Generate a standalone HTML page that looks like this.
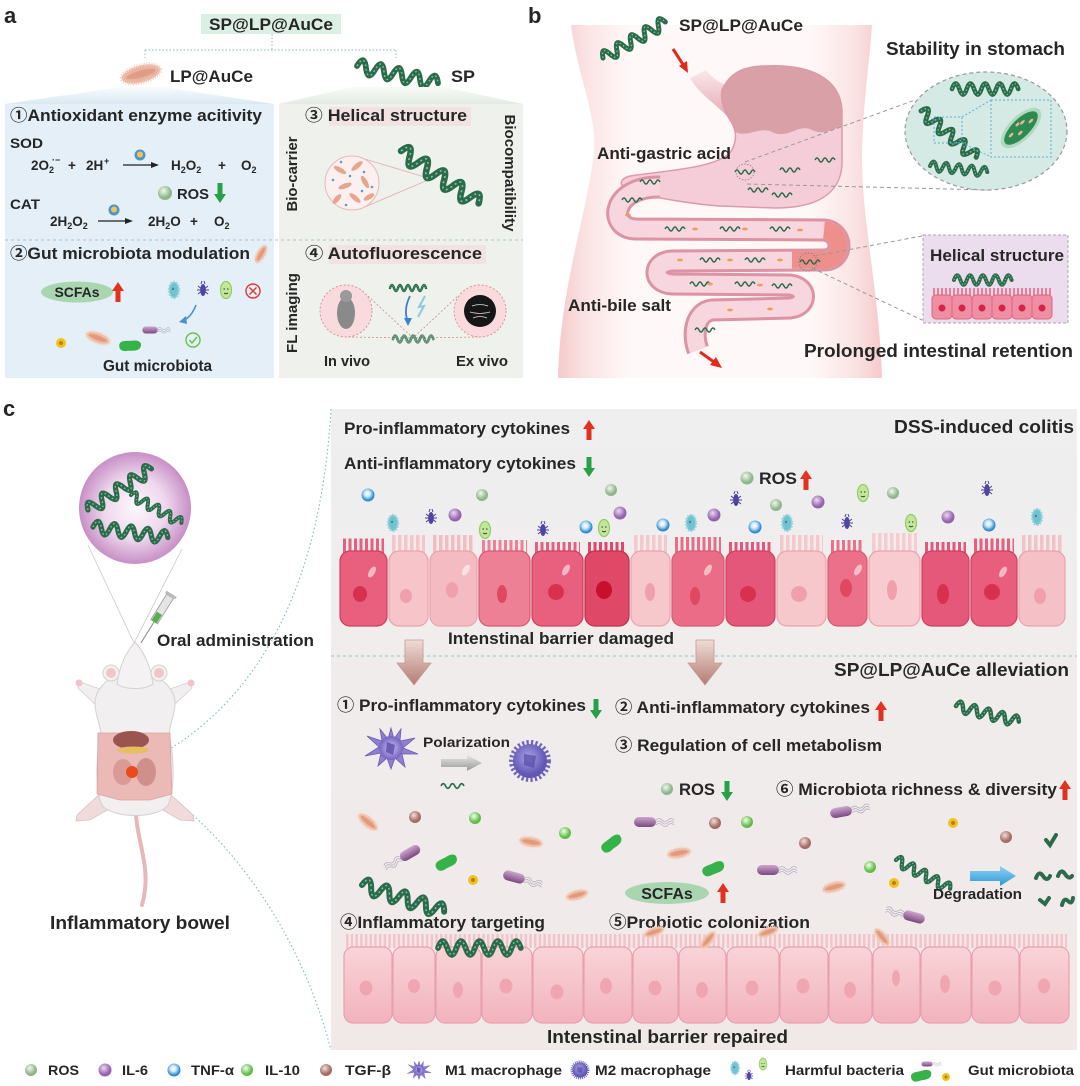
<!DOCTYPE html>
<html><head><meta charset="utf-8"><style>
html,body{margin:0;padding:0;background:#fff;}
svg{display:block;}
text{font-family:"Liberation Sans","Noto Sans CJK SC",sans-serif;font-weight:bold;fill:#262626;}
</style></head><body>
<svg xmlns="http://www.w3.org/2000/svg" width="1080" height="1086" viewBox="0 0 1080 1086">
<defs>
 <radialGradient id="gROS" cx="40%" cy="35%"><stop offset="0" stop-color="#f2f8ee"/><stop offset="1" stop-color="#8fb58c"/></radialGradient>
 <radialGradient id="gIL6" cx="40%" cy="35%"><stop offset="0" stop-color="#ead8f0"/><stop offset="1" stop-color="#9563ad"/></radialGradient>
 <radialGradient id="gTNF" cx="45%" cy="40%"><stop offset="0" stop-color="#ffffff"/><stop offset="0.45" stop-color="#cfe8f8"/><stop offset="1" stop-color="#2d8cd0"/></radialGradient>
 <radialGradient id="gIL10" cx="40%" cy="35%"><stop offset="0" stop-color="#f4fff0"/><stop offset="1" stop-color="#62bd48"/></radialGradient>
 <radialGradient id="gTGF" cx="40%" cy="35%"><stop offset="0" stop-color="#f2dedb"/><stop offset="1" stop-color="#a46c64"/></radialGradient>
 <radialGradient id="gCircle" cx="50%" cy="50%"><stop offset="0" stop-color="#fdf7fc"/><stop offset="0.55" stop-color="#efd8ee"/><stop offset="1" stop-color="#c78fc6"/></radialGradient>
 <radialGradient id="gM1" cx="50%" cy="50%"><stop offset="0" stop-color="#c8bcf0"/><stop offset="1" stop-color="#7564c0"/></radialGradient>
 <radialGradient id="gM2" cx="45%" cy="40%"><stop offset="0" stop-color="#a9a2e6"/><stop offset="1" stop-color="#6258b4"/></radialGradient>
 <linearGradient id="gCap" x1="0" y1="0" x2="0" y2="1"><stop offset="0" stop-color="#cda6cf"/><stop offset="1" stop-color="#7a4a7e"/></linearGradient>
 <linearGradient id="gBody" x1="0" y1="0" x2="1" y2="0"><stop offset="0" stop-color="#f5cacb"/><stop offset="0.09" stop-color="#fbe4e4"/><stop offset="0.22" stop-color="#fff8f8"/><stop offset="0.78" stop-color="#fff8f8"/><stop offset="0.91" stop-color="#fbe4e4"/><stop offset="1" stop-color="#f5cacb"/></linearGradient>
 <linearGradient id="gEso" x1="0" y1="0" x2="0" y2="1"><stop offset="0" stop-color="#fbe8ea"/><stop offset="1" stop-color="#e2a4ac"/></linearGradient>
 <linearGradient id="gBox" x1="0" y1="0" x2="0" y2="1"><stop offset="0" stop-color="#efefef"/><stop offset="1" stop-color="#f1e9e8"/></linearGradient>
 <linearGradient id="gFanL" x1="0" y1="0" x2="0" y2="1"><stop offset="0" stop-color="#f8fbfd"/><stop offset="1" stop-color="#d9e8f2"/></linearGradient>
 <linearGradient id="gFanR" x1="0" y1="0" x2="0" y2="1"><stop offset="0" stop-color="#f8faf7"/><stop offset="1" stop-color="#e3ebe3"/></linearGradient>
 <linearGradient id="gCellR" x1="0" y1="0" x2="0" y2="1"><stop offset="0" stop-color="#f9d4d8"/><stop offset="1" stop-color="#f2b3bd"/></linearGradient>
 <linearGradient id="gBigArrow" x1="0" y1="0" x2="0" y2="1"><stop offset="0" stop-color="#f0dcd6"/><stop offset="1" stop-color="#b37c74"/></linearGradient>
 <linearGradient id="gGrayArrow" x1="0" y1="0" x2="0" y2="1"><stop offset="0" stop-color="#e6e6e6"/><stop offset="1" stop-color="#9a9a9a"/></linearGradient>
 <linearGradient id="gBlueArrow" x1="0" y1="0" x2="0" y2="1"><stop offset="0" stop-color="#8fd4f4"/><stop offset="1" stop-color="#2f96d6"/></linearGradient>

 <g id="helix">
  <path d="M0 0q4 -12 8 0t8 0t8 0t8 0t8 0t8 0t8 0t8 0t8 0" fill="none" stroke="#2b6b4b" stroke-width="5" stroke-linecap="round"/>
  <path d="M0 0q4 -12 8 0t8 0t8 0t8 0t8 0t8 0t8 0t8 0t8 0" fill="none" stroke="#7cc49c" stroke-width="1.3" stroke-dasharray="1.5 2.5"/>
 </g>
 <path id="helixS" d="M0 0q2 -4 4 0t4 0t4 0t4 0t4 0" fill="none" stroke="#2b6b4b" stroke-width="1.4"/>
 <circle id="ros" r="6" fill="url(#gROS)"/>
 <circle id="il6" r="6.5" fill="url(#gIL6)"/>
 <circle id="tnf" r="6.5" fill="url(#gTNF)"/>
 <circle id="il10" r="6" fill="url(#gIL10)"/>
 <circle id="tgf" r="6" fill="url(#gTGF)"/>
 <polygon id="upR" points="-2.5,10 2.5,10 2.5,-1 6,-1 0,-10 -6,-1 -2.5,-1" fill="#e2321f"/>
 <polygon id="downG" points="-2.5,-10 2.5,-10 2.5,1 6,1 0,10 -6,1 -2.5,1" fill="#27a04a"/>
 <g id="teal"><ellipse rx="5" ry="8" fill="#72c2cf" stroke="#9ad6de" stroke-width="2.5" stroke-dasharray="1.5 1.5"/><circle cx="-1" cy="-1" r="1.2" fill="#3a8a9a"/></g>
 <g id="bug"><path d="M-5 -4 L5 4 M5 -4 L-5 4 M-6 0 L6 0 M-1 -9 L-2 -6 M1 -9 L2 -6" stroke="#4a3f9a" stroke-width="1"/><ellipse rx="2.8" ry="6" fill="#4f45a5"/></g>
 <g id="gbact"><ellipse rx="5.5" ry="8.5" fill="#c3e79a" stroke="#93cc66" stroke-width="1.2"/><path d="M-2.5 -1 h1.5 M1 -1 h1.5 M-2 3 q2 1.5 4 0" stroke="#333" stroke-width="0.9" fill="none"/></g>
 <g id="ob"><ellipse rx="13" ry="5.5" fill="#edbba2" stroke="#f4d3c2" stroke-width="3" stroke-dasharray="1 1.5"/><ellipse rx="10" ry="2.5" fill="#e19a80"/></g>
 <path id="bean" d="M-11 3 C-12 -4 -4 -3 2 -5 C8 -7 13 -5 11 1 C9 6 2 5 -3 7 C-7 8 -10 7 -11 3Z" fill="#37b24a"/>
 <g id="cap"><path d="M11 -2 q3 -3 6 0 t6 0 t6 0 M11 0.5 q3 -3 6 0 t6 0 t6 0 M11 3 q3 -3 6 0 t6 0 t6 0" stroke="#b6aec0" stroke-width="0.8" fill="none"/><rect x="-11" y="-5" width="22" height="10" rx="5" fill="url(#gCap)"/></g>
 <g id="yb"><circle r="5" fill="#f2c21c"/><circle r="2" fill="#b88410"/></g>
 <g id="m1"><path d="M0,-20 L3,-9 L10,-19 L9,-7 L24,-10 L12,0 L27,6 L11,6 L14,19 L4,10 L0,21 L-4,10 L-13,18 L-10,5 L-26,8 L-12,-1 L-24,-12 L-9,-7 L-11,-19 L-3,-9 Z" fill="#8e7fd2" stroke="#6a5ab4" stroke-width="0.8"/><circle r="12" fill="url(#gM1)"/><path d="M-4 -6 L4 -3 L2 7 L-5 4 Z" fill="#6b5bb5"/></g>
 <g id="m2"><circle r="18.5" fill="none" stroke="#6f66be" stroke-width="5" stroke-dasharray="2.2 2.2"/><circle r="17" fill="url(#gM2)"/><path d="M-6 -7 L6 -5 L4 7 L-6 4 Z" fill="#554aa6" opacity="0.7"/></g>
 <g id="cat"><circle r="5.5" fill="#4f94cc"/><circle cy="-0.5" r="3" fill="#f3c54a"/></g>
</defs>

<rect width="1080" height="1086" fill="#fff"/>

<!-- ================= PANEL A ================= -->
<text x="4" y="23" font-size="22">a</text>
<rect x="201" y="14" width="140" height="20" fill="#dcefe4"/>
<text x="209" y="30" font-size="17" textLength="124" lengthAdjust="spacingAndGlyphs">SP@LP@AuCe</text>
<g stroke="#86bcbc" stroke-width="1" stroke-dasharray="1.5 2" fill="none">
 <path d="M272 34 V50 M145 50 H396 M145 50 V58 M396 50 V58"/>
</g>
<g transform="translate(141,74) rotate(-15)"><ellipse rx="20" ry="8.5" fill="#eab5a0" stroke="#f5d3c4" stroke-width="4" stroke-dasharray="1 1.5"/><ellipse rx="15" ry="3.5" fill="#df9c86"/></g>
<text x="170" y="82" font-size="17" textLength="83" lengthAdjust="spacingAndGlyphs">LP@AuCe</text>
<use href="#helix" transform="translate(357,66) rotate(12) scale(1.15)"/>
<text x="451" y="82" font-size="17" textLength="24" lengthAdjust="spacingAndGlyphs">SP</text>
<polygon points="121,87 162,87 274,104 5,104" fill="url(#gFanL)"/>
<polygon points="352,87 445,87 523,104 279,104" fill="url(#gFanR)"/>
<rect x="5" y="104" width="269" height="274" fill="#e4eff7"/>
<rect x="279" y="104" width="244" height="274" fill="#eef1ec"/>
<line x1="5" y1="240" x2="523" y2="240" stroke="#a9c6c6" stroke-width="1" stroke-dasharray="3 3"/>

<text x="10" y="121" font-size="16.5" textLength="252" lengthAdjust="spacingAndGlyphs">①Antioxidant enzyme acitivity</text>
<text x="10" y="148" font-size="14" textLength="33" lengthAdjust="spacingAndGlyphs">SOD</text>
<g>
 <text x="31" y="170" font-size="13.5">2O</text><text x="49" y="173" font-size="9">2</text><text x="52" y="163" font-size="9">·−</text>
 <text x="68" y="170" font-size="13.5">+</text>
 <text x="86" y="170" font-size="13.5">2H</text><text x="104" y="164" font-size="9">+</text>
 <text x="171" y="170" font-size="13.5">H<tspan font-size="9" dy="3">2</tspan><tspan dy="-3">O</tspan><tspan font-size="9" dy="3">2</tspan></text>
 <text x="218" y="170" font-size="13.5">+</text>
 <text x="241" y="170" font-size="13.5">O<tspan font-size="9" dy="3">2</tspan></text>
 <text x="50" y="226" font-size="13.5">2H<tspan font-size="9" dy="3">2</tspan><tspan dy="-3">O</tspan><tspan font-size="9" dy="3">2</tspan></text>
 <text x="148" y="226" font-size="13.5">2H<tspan font-size="9" dy="3">2</tspan><tspan dy="-3">O</tspan></text>
 <text x="190" y="226" font-size="13.5">+</text>
 <text x="214" y="226" font-size="13.5">O<tspan font-size="9" dy="3">2</tspan></text>
</g>
<line x1="123" y1="165" x2="153" y2="165" stroke="#222" stroke-width="1.3"/><polygon points="159,165 151,162 151,168" fill="#222"/>
<use href="#cat" x="140" y="155"/>
<line x1="98" y1="221" x2="127" y2="221" stroke="#222" stroke-width="1.3"/><polygon points="133,221 125,218 125,224" fill="#222"/>
<use href="#cat" x="114" y="210"/>
<circle cx="165" cy="193" r="7" fill="url(#gROS)"/>
<text x="177" y="199" font-size="15" textLength="32" lengthAdjust="spacingAndGlyphs">ROS</text>
<use href="#downG" x="220" y="193"/>
<text x="10" y="209" font-size="14" textLength="30" lengthAdjust="spacingAndGlyphs">CAT</text>

<text x="10" y="259" font-size="16.5" textLength="240" lengthAdjust="spacingAndGlyphs">②Gut microbiota modulation</text>
<g transform="translate(261,254) rotate(-60) scale(0.75)"><use href="#ob"/></g>
<ellipse cx="77" cy="292" rx="36" ry="10.5" fill="#a9d6b1"/>
<text x="77" y="297" font-size="14" text-anchor="middle">SCFAs</text>
<use href="#upR" x="118" y="292"/>
<use href="#teal" x="174" y="290"/>
<use href="#bug" x="203" y="290"/>
<use href="#gbact" x="226" y="290"/>
<circle cx="253" cy="291" r="7" fill="none" stroke="#e03636" stroke-width="1.4"/><path d="M249.5 287.5 l7 7 M256.5 287.5 l-7 7" stroke="#e03636" stroke-width="1.4"/>
<path d="M196 305 Q191 318 182 321" fill="none" stroke="#4a8fd0" stroke-width="1.6"/><polygon points="179,322 186,316 187,324" fill="#4a8fd0"/>
<use href="#yb" x="61" y="343"/>
<g transform="translate(98,338) rotate(20) scale(0.95)"><use href="#ob"/></g>
<g transform="translate(130,345) rotate(10) scale(0.95)"><use href="#bean"/></g>
<g transform="translate(150,330) scale(0.7)"><use href="#cap"/></g>
<circle cx="193" cy="340" r="7" fill="none" stroke="#6cc04a" stroke-width="1.4"/><path d="M189.5 340 l2.5 3 l5 -6" fill="none" stroke="#6cc04a" stroke-width="1.4"/>
<text x="103" y="371" font-size="16" textLength="109" lengthAdjust="spacingAndGlyphs">Gut microbiota</text>

<rect x="329" y="107" width="142" height="19" fill="#f3e2e2"/>
<text x="305" y="121" font-size="16.5" textLength="162" lengthAdjust="spacingAndGlyphs">③ Helical structure</text>
<text transform="translate(297,174) rotate(-90)" text-anchor="middle" font-size="14.5" textLength="75" lengthAdjust="spacingAndGlyphs">Bio-carrier</text>
<text transform="translate(505,173) rotate(90)" text-anchor="middle" font-size="14.5" textLength="117" lengthAdjust="spacingAndGlyphs">Biocompatibility</text>
<line x1="358" y1="157" x2="428" y2="178" stroke="#e2b2b2" stroke-width="0.9"/>
<line x1="360" y1="209" x2="428" y2="180" stroke="#e2b2b2" stroke-width="0.9"/>
<circle cx="352" cy="183" r="27" fill="#fbefef" stroke="#e8b8b8" stroke-width="1"/>
<g fill="#e6a68e">
 <ellipse cx="340" cy="170" rx="7" ry="2.5" transform="rotate(30 340 170)"/>
 <ellipse cx="357" cy="166" rx="7" ry="2.5" transform="rotate(-40 357 166)"/>
 <ellipse cx="365" cy="182" rx="7" ry="2.5" transform="rotate(60 365 182)"/>
 <ellipse cx="345" cy="186" rx="7" ry="2.5" transform="rotate(-20 345 186)"/>
 <ellipse cx="355" cy="198" rx="7" ry="2.5" transform="rotate(40 355 198)"/>
 <ellipse cx="337" cy="199" rx="6" ry="2.5" transform="rotate(-50 337 199)"/>
 <ellipse cx="369" cy="197" rx="6" ry="2.5" transform="rotate(-30 369 197)"/>
</g>
<g fill="#5a9fc8"><circle cx="333" cy="180" r="1.3"/><circle cx="350" cy="176" r="1.3"/><circle cx="364" cy="172" r="1.3"/><circle cx="346" cy="205" r="1.3"/><circle cx="362" cy="191" r="1.3"/><circle cx="341" cy="162" r="1.3"/><circle cx="372" cy="187" r="1.3"/></g>
<use href="#helix" transform="translate(401,151) rotate(34) scale(1.3)"/>

<rect x="329" y="245" width="157" height="19" fill="#f3e2e2"/>
<text x="305" y="259" font-size="16.5" textLength="177" lengthAdjust="spacingAndGlyphs">④ Autofluorescence</text>
<text transform="translate(297,313) rotate(-90)" text-anchor="middle" font-size="14.5" textLength="80" lengthAdjust="spacingAndGlyphs">FL imaging</text>
<g stroke="#d98a8a" stroke-width="0.8" stroke-dasharray="2 2" fill="none">
 <path d="M368 296 L413 338 L458 296 M348 337 L413 338 L478 337"/>
</g>
<circle cx="346" cy="311" r="26" fill="#f9dadd" stroke="#d98a8a" stroke-width="0.9" stroke-dasharray="2 2"/>
<ellipse cx="346" cy="313" rx="9" ry="16" fill="#8a8a8a"/><circle cx="346" cy="296" r="6" fill="#9a9a9a"/>
<circle cx="480" cy="311" r="26" fill="#fadadd" stroke="#d98a8a" stroke-width="0.9" stroke-dasharray="2 2"/>
<circle cx="480" cy="311" r="16" fill="#161616"/>
<path d="M472 306 q8 -3 16 0 M470 312 q10 3 20 0 M473 318 q7 -3 14 0" stroke="#ddd" stroke-width="0.8" fill="none"/>
<g transform="translate(390,288) scale(0.5)"><use href="#helix"/></g>
<path d="M410 296 Q403 310 408 322" fill="none" stroke="#3d7fd0" stroke-width="1.8"/><polygon points="408,326 404,318 412,318" fill="#3d7fd0"/>
<path d="M425 296 L419 307 L424 306 L418 317" fill="none" stroke="#88cce0" stroke-width="2"/>
<g transform="translate(393,339) scale(0.56)" opacity="0.75"><use href="#helix"/></g>
<text x="324" y="366" font-size="15" textLength="46" lengthAdjust="spacingAndGlyphs">In vivo</text>
<text x="456" y="366" font-size="15" textLength="52" lengthAdjust="spacingAndGlyphs">Ex vivo</text>

<!-- ================= PANEL B ================= -->
<path d="M571 25 C578 80 600 120 593 160 C585 220 560 290 558 378 L882 378 C880 300 862 220 862 160 C862 110 870 60 872 25 Z" fill="url(#gBody)"/>
<text x="528" y="23" font-size="22">b</text>
<use href="#helix" transform="translate(603,58) rotate(-30) scale(1.0)"/>
<text x="679" y="31" font-size="17" textLength="124" lengthAdjust="spacingAndGlyphs">SP@LP@AuCe</text>
<path d="M673 49 L684 66" stroke="#e02a1e" stroke-width="3"/><polygon points="688,73 679,66 687,61" fill="#e02a1e"/>

<!-- stomach -->
<clipPath id="stClip"><path d="M722 90 C730 72 745 66 765 66 C810 64 840 78 842 110 L842 165 C840 195 815 208 775 208 L720 206 C690 204 660 198 640 194 C620 190 615 180 630 176 C670 170 720 168 732 150 C737 140 737 130 730 120 C724 110 720 100 722 90 Z"/></clipPath>
<path d="M690 78 L706 70 C715 82 728 86 738 90 L732 122 C720 106 700 96 690 78 Z" fill="url(#gEso)"/>
<path d="M722 90 C730 72 745 66 765 66 C810 64 840 78 842 110 L842 165 C840 195 815 208 775 208 L720 206 C690 204 660 198 640 194 C620 190 615 180 630 176 C670 170 720 168 732 150 C737 140 737 130 730 120 C724 110 720 100 722 90 Z" fill="#f5cdd8"/>
<path clip-path="url(#stClip)" d="M690 55 L850 55 L850 128 C838 122 828 138 812 130 C798 123 788 140 772 132 C760 126 748 138 735 132 L690 132 Z" fill="#d9a1a7"/>
<path d="M722 90 C730 72 745 66 765 66 C810 64 840 78 842 110 L842 165 C840 195 815 208 775 208 L720 206 C690 204 660 198 640 194 C620 190 615 180 630 176 C670 170 720 168 732 150 C737 140 737 130 730 120 C724 110 720 100 722 90 Z" fill="none" stroke="#dc9aaa" stroke-width="1.5"/>
<!-- intestine -->
<path d="M660 187 C612 186 606 228 636 229 L824 230 C844 232 844 260 824 260 L672 261 C652 262 652 283 672 284 L790 285 C808 287 808 306 790 308 L712 310 C695 312 692 335 698 350" fill="none" stroke="#dc93a4" stroke-width="23"/>
<path d="M660 187 C612 186 606 228 636 229 L824 230 C844 232 844 260 824 260 L672 261 C652 262 652 283 672 284 L790 285 C808 287 808 306 790 308 L712 310 C695 312 692 335 698 350" fill="none" stroke="#f7d6e0" stroke-width="17"/>
<path d="M792 260 L824 260 C844 260 844 232 824 230" fill="none" stroke="#ef8f8c" stroke-width="17"/>
<g>
 <use href="#helixS" x="622" y="200"/><use href="#helixS" x="665" y="229"/><use href="#helixS" x="720" y="229"/><use href="#helixS" x="770" y="229"/>
 <use href="#helixS" x="700" y="260"/><use href="#helixS" x="745" y="260"/><use href="#helixS" x="690" y="284"/><use href="#helixS" x="735" y="284"/>
 <use href="#helixS" x="800" y="262"/><use href="#helixS" x="695" y="330"/><use href="#helixS" x="772" y="286"/>
 <use href="#helixS" x="735" y="172"/><use href="#helixS" x="780" y="170"/><use href="#helixS" x="815" y="160"/><use href="#helixS" x="748" y="190"/><use href="#helixS" x="772" y="195"/><use href="#helixS" x="640" y="182"/>
</g>
<g fill="#e9a25e">
 <ellipse cx="628" cy="215" rx="3" ry="1.5"/><ellipse cx="695" cy="229" rx="3" ry="1.5"/><ellipse cx="745" cy="229" rx="3" ry="1.5"/><ellipse cx="800" cy="230" rx="3" ry="1.5"/>
 <ellipse cx="680" cy="260" rx="3" ry="1.5"/><ellipse cx="730" cy="260" rx="3" ry="1.5"/><ellipse cx="780" cy="260" rx="3" ry="1.5"/>
 <ellipse cx="710" cy="284" rx="3" ry="1.5"/><ellipse cx="760" cy="285" rx="3" ry="1.5"/><ellipse cx="770" cy="309" rx="3" ry="1.5"/><ellipse cx="730" cy="310" rx="3" ry="1.5"/>
</g>
<circle cx="808" cy="262" r="9" fill="none" stroke="#777" stroke-width="0.7" stroke-dasharray="1.5 1.5"/>
<path d="M700 352 L714 362" stroke="#e02a1e" stroke-width="3"/><polygon points="722,368 710,365 716,357" fill="#e02a1e"/>

<!-- dashed connectors b -->
<g stroke="#999" stroke-width="1" stroke-dasharray="4 3" fill="none">
 <path d="M745 162 L915 100 M747 184 L988 190 M815 256 L922 236 M812 268 L922 320"/>
</g>
<ellipse cx="745" cy="172" rx="9" ry="8" fill="none" stroke="#777" stroke-width="0.7" stroke-dasharray="1.5 1.5"/>
<ellipse cx="986" cy="131" rx="81" ry="59" fill="#d6eae5" stroke="#9a9a9a" stroke-width="1.2" stroke-dasharray="4 3"/>
<use href="#helix" transform="translate(952,89) scale(0.92)"/>
<use href="#helix" transform="translate(921,111) rotate(40) scale(1.0)"/>
<use href="#helix" transform="translate(930,166) rotate(6) scale(0.8)"/>
<g stroke="#5ab0d8" stroke-width="1" stroke-dasharray="2 2" fill="none">
 <rect x="934" y="117" width="28" height="26"/><rect x="991" y="100" width="60" height="57"/>
 <path d="M962 117 L991 100 M962 143 L991 157"/>
</g>
<g transform="translate(1021,128) rotate(-45)">
 <ellipse rx="26" ry="12" fill="#9fd2b0" opacity="0.7"/><ellipse rx="22" ry="9" fill="#2d8a50"/>
 <g fill="#eab59a"><ellipse cx="-12" cy="-2" rx="3" ry="1.3"/><ellipse cx="-4" cy="3" rx="3" ry="1.3"/><ellipse cx="5" cy="-3" rx="3" ry="1.3"/><ellipse cx="12" cy="2" rx="3" ry="1.3"/><ellipse cx="0" cy="-5" rx="2.5" ry="1.2"/></g>
</g>
<text x="886" y="55" font-size="18" textLength="179" lengthAdjust="spacingAndGlyphs">Stability in stomach</text>
<text x="597" y="159" font-size="16.5" textLength="134" lengthAdjust="spacingAndGlyphs">Anti-gastric acid</text>
<text x="568" y="311" font-size="16.5" textLength="103" lengthAdjust="spacingAndGlyphs">Anti-bile salt</text>
<rect x="923" y="235" width="145" height="88" fill="#ebdded" stroke="#a9a9a9" stroke-width="1" stroke-dasharray="3 2"/>
<text x="930" y="261" font-size="16.5" textLength="134" lengthAdjust="spacingAndGlyphs">Helical structure</text>
<use href="#helix" transform="translate(954,280) scale(0.8)"/>
<g>
 <line x1="933" y1="292" x2="1053" y2="292" stroke="#f07c96" stroke-width="8" stroke-dasharray="2 2"/>
 <rect x="932" y="295" width="20" height="24" rx="4" fill="#f08ea4" stroke="#e06482"/>
 <rect x="952" y="295" width="20" height="24" rx="4" fill="#f08ea4" stroke="#e06482"/>
 <rect x="972" y="295" width="20" height="24" rx="4" fill="#f08ea4" stroke="#e06482"/>
 <rect x="992" y="295" width="20" height="24" rx="4" fill="#f08ea4" stroke="#e06482"/>
 <rect x="1012" y="295" width="20" height="24" rx="4" fill="#f08ea4" stroke="#e06482"/>
 <rect x="1032" y="295" width="20" height="24" rx="4" fill="#f08ea4" stroke="#e06482"/>
 <g fill="#d62448"><circle cx="942" cy="308" r="3.5"/><circle cx="962" cy="308" r="3.5"/><circle cx="982" cy="308" r="3.5"/><circle cx="1002" cy="308" r="3.5"/><circle cx="1022" cy="308" r="3.5"/><circle cx="1042" cy="308" r="3.5"/></g>
</g>
<text x="804" y="357" font-size="18.5" textLength="269" lengthAdjust="spacingAndGlyphs">Prolonged intestinal retention</text>

<!-- ================= PANEL C ================= -->
<text x="3" y="416" font-size="22">c</text>
<rect x="331" y="409" width="746" height="641" fill="url(#gBox)"/>
<g stroke="#6ec0c0" stroke-width="1.1" stroke-dasharray="1.5 2.5" fill="none">
 <path d="M168 750 C250 700 320 600 331 409"/>
 <path d="M168 795 C230 840 300 930 331 1050"/>
</g>
<line x1="331" y1="656" x2="1077" y2="656" stroke="#8cc8c8" stroke-width="1" stroke-dasharray="3 3"/>

<!-- left: circle + mouse -->
<line x1="88" y1="545" x2="134" y2="643" stroke="#d4c4d4" stroke-width="0.8"/>
<line x1="182" y1="549" x2="134" y2="643" stroke="#d4c4d4" stroke-width="0.8"/>
<circle cx="135" cy="508" r="56" fill="url(#gCircle)"/>
<use href="#helix" transform="translate(88,510) rotate(-33) scale(1.05)"/>
<use href="#helix" transform="translate(131,495) rotate(29) scale(0.8)"/>
<use href="#helix" transform="translate(93,527) rotate(8) scale(1.05)"/>
<g transform="translate(169,598) rotate(32)">
 <rect x="-4" y="-2" width="8" height="30" fill="#e4e4e4" stroke="#9a9a9a" stroke-width="0.8"/>
 <rect x="-6" y="-5" width="12" height="3" fill="#bbb"/>
 <rect x="-3" y="18" width="6" height="10" fill="#55b050"/>
 <line x1="0" y1="28" x2="0" y2="53" stroke="#888" stroke-width="1"/>
</g>
<!-- mouse -->
<path d="M136 815 C138 845 152 870 142 905" stroke="#e7b7b9" stroke-width="4" fill="none" stroke-linecap="round"/>
<polygon points="102,792 77,815 76,821 90,820 114,806" fill="#f0dada" stroke="#d8c2c2" stroke-width="0.8"/>
<polygon points="168,792 193,815 194,821 180,820 156,806" fill="#f0dada" stroke="#d8c2c2" stroke-width="0.8"/>
<polygon points="103,690 80,682 78,688 97,706" fill="#f1efef" stroke="#d6d0d0" stroke-width="0.8"/>
<polygon points="167,690 190,682 192,688 173,706" fill="#f1efef" stroke="#d6d0d0" stroke-width="0.8"/>
<circle cx="79" cy="683" r="3.5" fill="#f0c4c8"/><circle cx="191" cy="683" r="3.5" fill="#f0c4c8"/>
<path d="M120 672 C106 680 94 690 95 705 C96 720 103 728 100 740 C96 760 95 790 102 805 C112 819 158 819 168 805 C175 790 174 760 170 740 C167 728 174 720 175 705 C176 690 164 680 150 672 Z" fill="#f1efef" stroke="#d6d0d0" stroke-width="1"/>
<circle cx="111" cy="673" r="8" fill="#f3f1f1" stroke="#d6d0d0"/><circle cx="111" cy="673" r="5" fill="#f0c6c9"/>
<circle cx="159" cy="673" r="8" fill="#f3f1f1" stroke="#d6d0d0"/><circle cx="159" cy="673" r="5" fill="#f0c6c9"/>
<path d="M135 642 C128 650 120 662 117 684 C125 690 145 690 153 684 C150 662 142 650 135 642 Z" fill="#f4f2f2" stroke="#d6d0d0" stroke-width="1"/>
<path d="M98 733 L170 733 L172 794 L150 800 L120 800 L97 794 Z" fill="#ebbab7" stroke="#d8a2a2" stroke-width="0.8"/>
<ellipse cx="131" cy="740" rx="18" ry="9" fill="#9a5550"/>
<ellipse cx="133" cy="750" rx="16" ry="3.5" fill="#e6bf62"/>
<ellipse cx="123" cy="772" rx="10" ry="13" fill="#d99a98"/>
<ellipse cx="146" cy="772" rx="10" ry="14" fill="#cf908c"/>
<circle cx="132" cy="772" r="6" fill="#ec4a1c"/>
<text x="157" y="646" font-size="16.5" textLength="157" lengthAdjust="spacingAndGlyphs">Oral administration</text>
<text x="50" y="929" font-size="18.5" textLength="180" lengthAdjust="spacingAndGlyphs">Inflammatory bowel</text>

<!-- top section texts -->
<text x="344" y="434" font-size="17" textLength="226" lengthAdjust="spacingAndGlyphs">Pro-inflammatory cytokines</text>
<use href="#upR" x="589" y="430"/>
<text x="894" y="433" font-size="18" textLength="180" lengthAdjust="spacingAndGlyphs">DSS-induced colitis</text>
<text x="344" y="469" font-size="17" textLength="232" lengthAdjust="spacingAndGlyphs">Anti-inflammatory cytokines</text>
<use href="#downG" x="589" y="467"/>
<circle cx="747" cy="478" r="6.5" fill="url(#gROS)"/>
<text x="759" y="484" font-size="17" textLength="38" lengthAdjust="spacingAndGlyphs">ROS</text>
<use href="#upR" x="806" y="480"/>

<!-- top particles -->
<use href="#tnf" x="368" y="495"/><use href="#tnf" x="586" y="527"/><use href="#tnf" x="663" y="525"/><use href="#tnf" x="755" y="527"/><use href="#tnf" x="989" y="525"/>
<use href="#ros" x="482" y="495"/><use href="#ros" x="611" y="490"/><use href="#ros" x="776" y="505"/><use href="#ros" x="893" y="493"/>
<use href="#il6" x="455" y="515"/><use href="#il6" x="620" y="513"/><use href="#il6" x="714" y="515"/><use href="#il6" x="818" y="502"/><use href="#il6" x="948" y="517"/>
<use href="#teal" x="393" y="523"/><use href="#teal" x="691" y="523"/><use href="#teal" x="787" y="523"/><use href="#teal" x="1037" y="517"/>
<use href="#bug" x="431" y="518"/><use href="#bug" x="543" y="530"/><use href="#bug" x="736" y="500"/><use href="#bug" x="847" y="523"/><use href="#bug" x="987" y="490"/>
<use href="#gbact" x="485" y="530"/><use href="#gbact" x="604" y="528"/><use href="#gbact" x="863" y="493"/><use href="#gbact" x="911" y="523"/>

<!-- damaged cells -->
<g stroke-width="1.2">
 <line x1="343" y1="546" x2="384" y2="546" stroke="#e8607e" stroke-width="15" stroke-dasharray="3 2.5"/>
 <line x1="392" y1="544" x2="425" y2="544" stroke="#f6c4c9" stroke-width="18" stroke-dasharray="3.5 2.5"/>
 <line x1="433" y1="544" x2="474" y2="544" stroke="#f4bcc2" stroke-width="18" stroke-dasharray="3.5 2.5"/>
 <line x1="482" y1="547" x2="527" y2="547" stroke="#ee8095" stroke-width="14" stroke-dasharray="3 2.5"/>
 <line x1="535" y1="548" x2="580" y2="548" stroke="#e8607e" stroke-width="12" stroke-dasharray="3 2.5"/>
 <line x1="588" y1="548" x2="626" y2="548" stroke="#e04868" stroke-width="12" stroke-dasharray="3 2.5"/>
 <line x1="634" y1="544" x2="667" y2="544" stroke="#f6c7cb" stroke-width="18" stroke-dasharray="3.5 2.5"/>
 <line x1="675" y1="545" x2="721" y2="545" stroke="#ea6c86" stroke-width="16" stroke-dasharray="3 2.5"/>
 <line x1="729" y1="548" x2="772" y2="548" stroke="#e5577a" stroke-width="12" stroke-dasharray="3 2.5"/>
 <line x1="780" y1="544" x2="823" y2="544" stroke="#f6c8cb" stroke-width="18" stroke-dasharray="3.5 2.5"/>
 <line x1="831" y1="547" x2="864" y2="547" stroke="#ec7089" stroke-width="14" stroke-dasharray="3 2.5"/>
 <line x1="872" y1="543" x2="917" y2="543" stroke="#f7cbcf" stroke-width="20" stroke-dasharray="3.5 2.5"/>
 <line x1="925" y1="548" x2="966" y2="548" stroke="#e6587a" stroke-width="12" stroke-dasharray="3 2.5"/>
 <line x1="974" y1="546" x2="1014" y2="546" stroke="#e85e7c" stroke-width="15" stroke-dasharray="3 2.5"/>
 <line x1="1022" y1="544" x2="1062" y2="544" stroke="#f5c0c6" stroke-width="18" stroke-dasharray="3.5 2.5"/>

 <rect x="340" y="551" width="47" height="75" rx="10" fill="#e8607e" stroke="#cf3f5f"/>
 <rect x="389" y="551" width="39" height="75" rx="10" fill="#f6c4c9" stroke="#eba3ad"/>
 <rect x="430" y="551" width="47" height="75" rx="10" fill="#f4bcc2" stroke="#eba3ad"/>
 <rect x="479" y="551" width="51" height="75" rx="10" fill="#ee8095" stroke="#d75a74"/>
 <rect x="532" y="551" width="51" height="75" rx="10" fill="#e8607e" stroke="#cf3f5f"/>
 <rect x="585" y="551" width="44" height="75" rx="10" fill="#e04868" stroke="#c42c4c"/>
 <rect x="631" y="551" width="39" height="75" rx="10" fill="#f6c7cb" stroke="#eba3ad"/>
 <rect x="672" y="551" width="52" height="75" rx="10" fill="#ea6c86" stroke="#d75a74"/>
 <rect x="726" y="551" width="49" height="75" rx="10" fill="#e5577a" stroke="#cf3f5f"/>
 <rect x="777" y="551" width="49" height="75" rx="10" fill="#f6c8cb" stroke="#eba3ad"/>
 <rect x="828" y="551" width="39" height="75" rx="10" fill="#ec7089" stroke="#d75a74"/>
 <rect x="869" y="551" width="51" height="75" rx="10" fill="#f7cbcf" stroke="#eba3ad"/>
 <rect x="922" y="551" width="47" height="75" rx="10" fill="#e6587a" stroke="#cf3f5f"/>
 <rect x="971" y="551" width="46" height="75" rx="10" fill="#e85e7c" stroke="#cf3f5f"/>
 <rect x="1019" y="551" width="46" height="75" rx="10" fill="#f5c0c6" stroke="#eba3ad"/>
</g>
<g>
 <ellipse cx="360" cy="594" rx="7" ry="8" fill="#d7314f"/>
 <ellipse cx="406" cy="596" rx="6" ry="7" fill="#f0a0aa"/>
 <ellipse cx="452" cy="590" rx="6" ry="8" fill="#f0a0aa"/>
 <ellipse cx="502" cy="594" rx="5" ry="9" fill="#e04862"/>
 <ellipse cx="556" cy="592" rx="8" ry="8" fill="#d7314f"/>
 <ellipse cx="604" cy="590" rx="8" ry="9" fill="#c8102e"/>
 <ellipse cx="650" cy="592" rx="5" ry="9" fill="#f0a0aa"/>
 <ellipse cx="695" cy="596" rx="5" ry="9" fill="#e04862"/>
 <ellipse cx="748" cy="594" rx="8" ry="8" fill="#d7314f"/>
 <ellipse cx="799" cy="594" rx="8" ry="8" fill="#f0a0aa"/>
 <ellipse cx="846" cy="588" rx="6" ry="9" fill="#e04862"/>
 <ellipse cx="892" cy="590" rx="5" ry="10" fill="#f0a0aa"/>
 <ellipse cx="943" cy="594" rx="6" ry="10" fill="#d7314f"/>
 <ellipse cx="992" cy="592" rx="8" ry="8" fill="#d7314f"/>
 <ellipse cx="1040" cy="596" rx="6" ry="8" fill="#f0a0aa"/>
</g>
<g fill="#fff" opacity="0.55">
 <ellipse cx="372" cy="572" rx="3" ry="6" transform="rotate(30 372 572)"/><ellipse cx="466" cy="570" rx="3" ry="6" transform="rotate(30 466 570)"/><ellipse cx="566" cy="570" rx="3" ry="6" transform="rotate(30 566 570)"/><ellipse cx="708" cy="570" rx="3" ry="6" transform="rotate(30 708 570)"/><ellipse cx="858" cy="570" rx="3" ry="6" transform="rotate(30 858 570)"/><ellipse cx="1003" cy="572" rx="3" ry="6" transform="rotate(30 1003 572)"/>
</g>
<text x="448" y="644" font-size="17" textLength="226" lengthAdjust="spacingAndGlyphs">Intenstinal barrier damaged</text>
<polygon points="405,640 423,640 423,663 431,663 414,685 397,663 405,663" fill="url(#gBigArrow)" stroke="#c49a92" stroke-width="0.8"/>
<polygon points="696,640 714,640 714,663 722,663 705,685 688,663 696,663" fill="url(#gBigArrow)" stroke="#c49a92" stroke-width="0.8"/>

<!-- bottom section -->
<text x="834" y="676" font-size="18" textLength="235" lengthAdjust="spacingAndGlyphs">SP@LP@AuCe alleviation</text>
<text x="337" y="711" font-size="17" textLength="249" lengthAdjust="spacingAndGlyphs">① Pro-inflammatory cytokines</text>
<use href="#downG" x="596" y="709"/>
<text x="615" y="713" font-size="17" textLength="255" lengthAdjust="spacingAndGlyphs">② Anti-inflammatory cytokines</text>
<use href="#upR" x="881" y="711"/>
<use href="#helix" transform="translate(956,706) rotate(14) scale(0.9)"/>
<use href="#m1" x="391" y="748"/>
<text x="423" y="747" font-size="14" textLength="87" lengthAdjust="spacingAndGlyphs">Polarization</text>
<polygon points="441,759 467,759 467,755 482,763 467,771 467,767 441,767" fill="url(#gGrayArrow)"/>
<use href="#m2" x="530" y="761"/>
<g transform="translate(441,786) scale(1.15)"><use href="#helixS"/></g>
<text x="615" y="751" font-size="17" textLength="267" lengthAdjust="spacingAndGlyphs">③ Regulation of cell metabolism</text>
<circle cx="667" cy="789" r="6" fill="url(#gROS)"/>
<text x="679" y="795" font-size="17" textLength="36" lengthAdjust="spacingAndGlyphs">ROS</text>
<use href="#downG" x="727" y="791"/>
<text x="776" y="795" font-size="17" textLength="281" lengthAdjust="spacingAndGlyphs">⑥ Microbiota richness &amp; diversity</text>
<use href="#upR" x="1065" y="790"/>

<!-- microbes -->
<g transform="translate(368,822) rotate(40) scale(0.9)"><use href="#ob"/></g>
<use href="#tgf" x="415" y="817"/><use href="#il10" x="475" y="818"/>
<g transform="translate(410,853) rotate(-30)"><g transform="scale(-1,1)"><use href="#cap"/></g></g>
<g transform="translate(446,862) rotate(-15)"><use href="#bean"/></g>
<g transform="translate(531,842) rotate(10) scale(0.9)"><use href="#ob"/></g>
<use href="#il10" x="565" y="833"/>
<g transform="translate(611,843) rotate(-25)"><use href="#bean"/></g>
<g transform="translate(645,822)"><use href="#cap"/></g>
<use href="#tgf" x="715" y="823"/><use href="#il10" x="747" y="822"/>
<g transform="translate(679,853) rotate(-10) scale(0.9)"><use href="#ob"/></g>
<g transform="translate(713,868) rotate(-10)"><use href="#bean"/></g>
<g transform="translate(768,870)"><use href="#cap"/></g>
<use href="#yb" x="473" y="880"/>
<g transform="translate(514,877) rotate(15)"><use href="#cap"/></g>
<g transform="translate(577,895) rotate(-15) scale(0.85)"><use href="#ob"/></g>
<use href="#tgf" x="805" y="843"/>
<g transform="translate(841,812) rotate(-10)"><use href="#cap"/></g>
<g transform="translate(834,887) rotate(-15) scale(0.9)"><use href="#ob"/></g>
<use href="#il10" x="870" y="867"/>
<use href="#yb" x="894" y="883"/><use href="#yb" x="953" y="823"/>
<use href="#tgf" x="1006" y="837"/>
<g transform="translate(914,917) rotate(15)"><g transform="scale(-1,1)"><use href="#cap"/></g></g>
<use href="#helix" transform="translate(362,885) rotate(18) scale(1.2)"/>
<use href="#helix" transform="translate(896,860) rotate(28) scale(0.85)"/>
<polygon points="970,871 1000,871 1000,866 1016,876 1000,886 1000,881 970,881" fill="url(#gBlueArrow)"/>
<text x="933" y="899" font-size="15" textLength="89" lengthAdjust="spacingAndGlyphs">Degradation</text>
<g fill="none" stroke="#2b6b4b" stroke-width="4" stroke-linecap="round">
 <path d="M1046 840 l4 5 l6 -10"/>
 <path d="M1036 878 q3 -8 7 -2 t7 0 M1058 876 q3 -8 7 -2 t7 2"/>
 <path d="M1040 900 l5 4 l4 -6 M1062 905 q2 -8 6 -4 t5 -3"/>
</g>
<ellipse cx="667" cy="893" rx="42" ry="11" fill="#a9d6b1"/>
<text x="667" y="899" font-size="16" text-anchor="middle">SCFAs</text>
<use href="#upR" x="723" y="893"/>
<text x="340" y="928" font-size="17" textLength="205" lengthAdjust="spacingAndGlyphs">④Inflammatory targeting</text>
<text x="609" y="928" font-size="17" textLength="201" lengthAdjust="spacingAndGlyphs">⑤Probiotic colonization</text>

<!-- repaired cells -->
<line x1="346" y1="941" x2="1067" y2="941" stroke="#f5c2c9" stroke-width="14" stroke-dasharray="2.5 2.2"/>
<g fill="url(#gCellR)" stroke="#e9a0ad" stroke-width="1.2">
 <rect x="344" y="947" width="48" height="76" rx="9"/><rect x="393" y="947" width="42" height="76" rx="9"/><rect x="436" y="947" width="45" height="76" rx="9"/>
 <rect x="482" y="947" width="50" height="76" rx="9"/><rect x="533" y="947" width="50" height="76" rx="9"/><rect x="584" y="947" width="48" height="76" rx="9"/>
 <rect x="633" y="947" width="45" height="76" rx="9"/><rect x="679" y="947" width="47" height="76" rx="9"/><rect x="727" y="947" width="52" height="76" rx="9"/>
 <rect x="780" y="947" width="48" height="76" rx="9"/><rect x="829" y="947" width="43" height="76" rx="9"/><rect x="873" y="947" width="47" height="76" rx="9"/>
 <rect x="921" y="947" width="50" height="76" rx="9"/><rect x="972" y="947" width="47" height="76" rx="9"/><rect x="1020" y="947" width="49" height="76" rx="9"/>
</g>
<g fill="#f0a6b1">
 <ellipse cx="366" cy="988" rx="6.5" ry="7.5"/><ellipse cx="414" cy="986" rx="6" ry="7"/><ellipse cx="458" cy="990" rx="5" ry="8"/>
 <ellipse cx="506" cy="986" rx="6.5" ry="7.5"/><ellipse cx="557" cy="992" rx="6.5" ry="7.5"/><ellipse cx="606" cy="986" rx="6" ry="8"/>
 <ellipse cx="655" cy="988" rx="6.5" ry="7.5"/><ellipse cx="702" cy="990" rx="6" ry="8"/><ellipse cx="752" cy="988" rx="6.5" ry="7.5"/>
 <ellipse cx="803" cy="986" rx="6.5" ry="7.5"/><ellipse cx="850" cy="990" rx="6" ry="8"/><ellipse cx="896" cy="978" rx="4" ry="8"/>
 <ellipse cx="945" cy="984" rx="5" ry="9"/><ellipse cx="995" cy="988" rx="6.5" ry="7.5"/><ellipse cx="1044" cy="986" rx="6" ry="7.5"/>
</g>
<use href="#helix" transform="translate(438,948) scale(1.15)"/>
<g transform="translate(654,932) rotate(-20) scale(0.8)"><use href="#ob"/></g>
<g transform="translate(708,940) rotate(-50) scale(0.8)"><use href="#ob"/></g>
<g transform="translate(768,932) rotate(-20) scale(0.8)"><use href="#ob"/></g>
<g transform="translate(882,937) rotate(50) scale(0.8)"><use href="#ob"/></g>
<text x="547" y="1043" font-size="18" textLength="241" lengthAdjust="spacingAndGlyphs">Intenstinal barrier repaired</text>

<!-- legend -->
<g>
 <use href="#ros" x="31" y="1070"/><text x="48" y="1075" font-size="14" textLength="31" lengthAdjust="spacingAndGlyphs">ROS</text>
 <use href="#il6" x="105" y="1070"/><text x="122" y="1075" font-size="14" textLength="26" lengthAdjust="spacingAndGlyphs">IL-6</text>
 <use href="#tnf" x="174" y="1070"/><text x="191" y="1075" font-size="14" textLength="43" lengthAdjust="spacingAndGlyphs">TNF-α</text>
 <use href="#il10" x="247" y="1070"/><text x="265" y="1075" font-size="14" textLength="35" lengthAdjust="spacingAndGlyphs">IL-10</text>
 <use href="#tgf" x="326" y="1070"/><text x="345" y="1075" font-size="14" textLength="46" lengthAdjust="spacingAndGlyphs">TGF-β</text>
 <g transform="translate(419,1070) scale(0.45)"><use href="#m1"/></g><text x="445" y="1075" font-size="14" textLength="117" lengthAdjust="spacingAndGlyphs">M1 macrophage</text>
 <g transform="translate(580,1070) scale(0.45)"><use href="#m2"/></g><text x="595" y="1075" font-size="14" textLength="116" lengthAdjust="spacingAndGlyphs">M2 macrophage</text>
 <g transform="translate(735,1068) scale(0.8)"><use href="#teal"/></g><g transform="translate(749,1076) scale(0.7)"><use href="#bug"/></g><g transform="translate(763,1064) scale(0.7)"><use href="#gbact"/></g>
 <text x="785" y="1075" font-size="14" textLength="119" lengthAdjust="spacingAndGlyphs">Harmful bacteria</text>
 <g transform="translate(921,1075) scale(0.9)"><use href="#bean"/></g><g transform="translate(927,1064) scale(0.5)"><use href="#cap"/></g><g transform="translate(946,1077) scale(0.8)"><use href="#yb"/></g>
 <text x="968" y="1075" font-size="14" textLength="106" lengthAdjust="spacingAndGlyphs">Gut microbiota</text>
</g>
</svg>
</body></html>
